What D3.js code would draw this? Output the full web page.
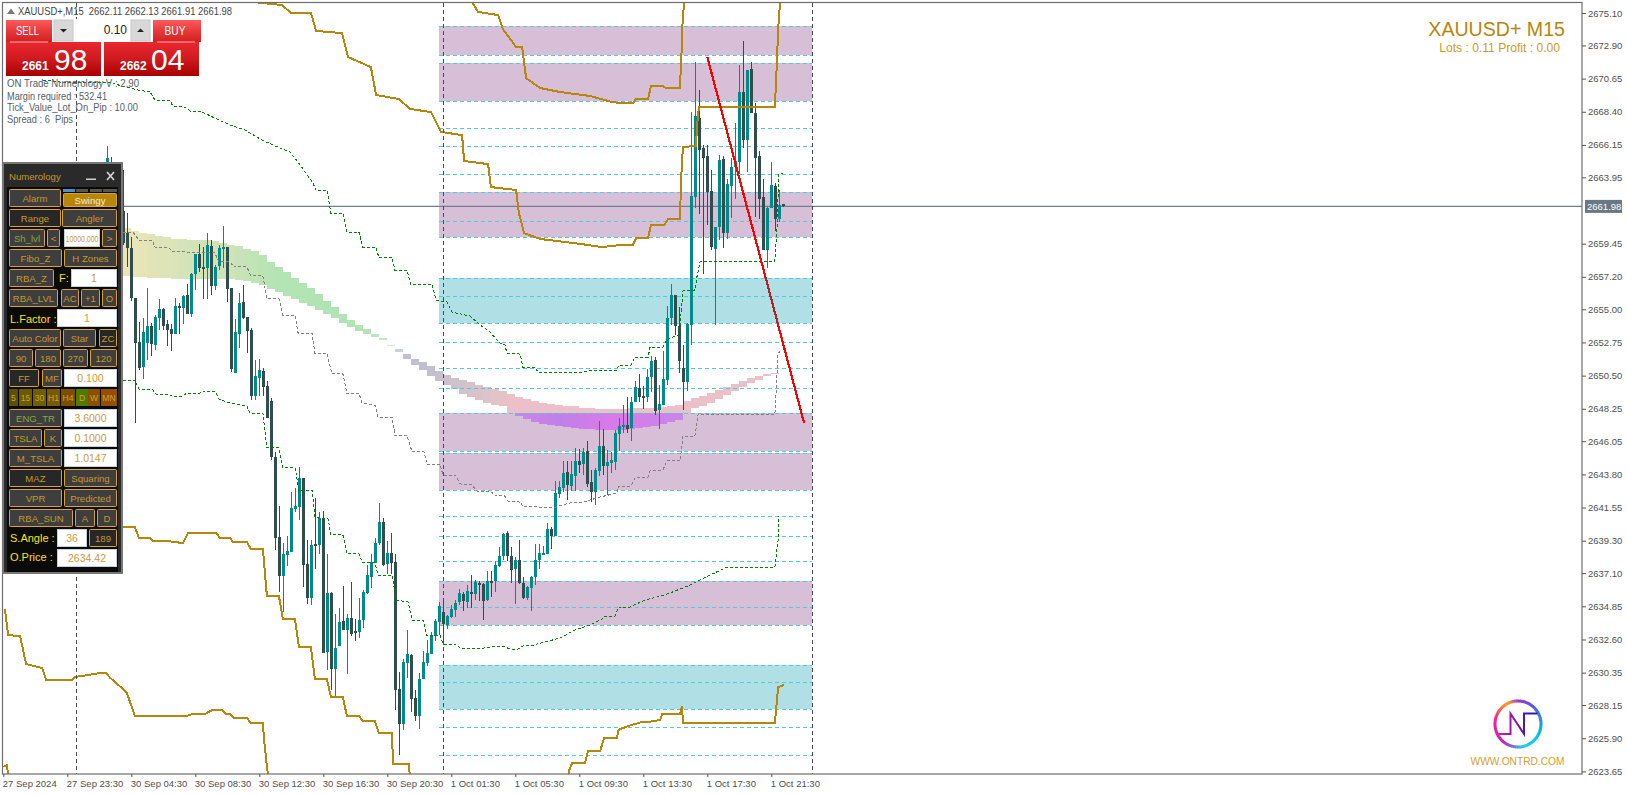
<!DOCTYPE html>
<html><head><meta charset="utf-8">
<style>html,body{margin:0;padding:0;background:#fff;overflow:hidden}svg{display:block}text{font-family:"Liberation Sans",Arial,sans-serif}</style>
<script src="https://cdn.jsdelivr.net/npm/d3@7"></script></head><body>
<script>
// ---------- DATA ----------
const dirs="UDDUDDDDDUUDUUDDDUDUDUUDDUDUUUDDUUDDDUUDDDDDUUUUUDDUDUDUDUUDUDDUUUUUUDUDDDUUDDUUUUUUDUUUUDUDUDDUDUUUDDUDDUUUUUUDUUUDUUDUDDUUDUUUUUDUUDDUUDUUUUDDDUUUDDDDUUDUUUUDUDDDDUUDUD";
const highs=[2666.08,2665.33,2664.11,2664.45,2664.45,2661.55,2659.92,2655.76,2654.14,2654.41,
2656.44,2654.05,2654.63,2655.70,2655.09,2654.27,2653.98,2655.76,2655.45,2655.97,
2656.71,2657.44,2658.75,2659.43,2659.24,2660.17,2659.70,2658.00,2659.36,2660.65,
2659.24,2656.44,2654.34,2656.10,2656.65,2654.47,2653.73,2651.56,2651.65,2651.01,
2650.13,2648.98,2645.34,2641.65,2639.12,2639.62,2642.60,2642.87,2644.30,2643.55,
2639.35,2639.35,2642.20,2641.25,2641.31,2638.40,2635.82,2634.33,2634.73,2636.23,
2634.33,2636.50,2633.99,2635.41,2635.95,2637.65,2638.40,2639.48,2641.86,2640.84,
2639.28,2639.82,2638.40,2630.39,2631.27,2633.24,2631.61,2629.17,2630.32,2631.82,
2632.56,2633.11,2633.99,2635.14,2635.14,2634.26,2634.94,2635.28,2636.02,2635.82,
2636.29,2636.97,2636.63,2636.56,2636.43,2637.24,2637.24,2637.92,2638.87,2639.82,
2639.96,2638.87,2638.19,2639.35,2636.84,2636.23,2636.90,2639.07,2639.07,2638.94,
2640.50,2640.23,2643.35,2643.35,2644.71,2644.71,2644.71,2645.59,2645.52,2645.59,
2646.06,2644.10,2644.23,2647.42,2646.88,2645.45,2645.32,2646.81,2647.62,2648.50,
2649.05,2649.05,2650.13,2650.61,2649.79,2650.95,2651.83,2651.76,2649.86,2652.17,
2655.22,2656.71,2655.97,2655.15,2652.58,2654.07,2668.38,2671.77,2669.87,2666.14,
2666.14,2664.45,2660.58,2665.46,2665.40,2663.84,2665.26,2667.64,2671.57,2673.20,
2671.23,2671.77,2668.99,2665.74,2663.84,2661.94,2664.99,2663.57,2663.09,2662.13];
const bodyTops=[2665.26,2664.45,2663.43,2663.09,2661.67,2660.19,2659.14,2655.76,2652.78,2653.46,
2653.86,2653.86,2654.47,2655.02,2655.02,2654.00,2653.66,2655.22,2655.22,2655.90,
2655.97,2657.39,2658.75,2658.75,2657.87,2659.36,2659.29,2657.87,2659.16,2659.22,
2659.22,2656.44,2653.46,2655.42,2655.49,2654.47,2653.59,2650.47,2650.88,2650.81,
2649.79,2648.78,2645.00,2639.55,2638.40,2638.60,2641.52,2641.65,2643.55,2643.55,
2637.72,2639.01,2639.07,2640.84,2640.84,2635.75,2635.75,2632.02,2633.78,2633.85,
2634.06,2634.06,2633.17,2633.92,2635.82,2636.97,2637.85,2639.14,2640.57,2640.57,
2638.46,2638.46,2637.85,2629.24,2631.07,2631.61,2631.55,2628.63,2629.92,2631.07,
2631.68,2632.90,2633.85,2634.87,2634.46,2634.19,2634.67,2635.07,2635.75,2635.68,
2635.89,2635.82,2636.50,2636.43,2636.36,2636.56,2636.56,2637.65,2638.26,2639.75,
2639.82,2638.26,2637.99,2637.99,2636.43,2636.16,2636.84,2637.99,2638.46,2638.46,
2640.09,2640.09,2642.54,2642.94,2643.89,2643.96,2643.82,2644.71,2644.71,2645.32,
2645.38,2643.28,2644.10,2645.72,2645.72,2644.64,2644.77,2646.60,2647.08,2647.15,
2647.15,2648.71,2649.73,2649.66,2649.11,2650.40,2651.49,2651.56,2648.57,2650.27,
2654.41,2655.97,2655.97,2653.86,2651.01,2654.00,2662.68,2668.11,2667.97,2665.94,
2665.40,2663.02,2660.58,2665.13,2665.19,2663.50,2664.65,2665.06,2669.74,2669.74,
2671.23,2671.30,2668.31,2665.40,2662.62,2661.87,2663.43,2663.36,2662.07,2662.11];
const bodyBottoms=[2664.45,2663.43,2662.75,2662.07,2659.49,2659.14,2655.76,2652.73,2651.01,2651.10,
2652.69,2652.64,2652.58,2654.41,2653.86,2653.59,2653.32,2653.32,2655.09,2655.09,
2654.68,2654.68,2657.39,2657.80,2657.73,2657.80,2656.58,2656.58,2657.93,2659.09,
2656.37,2650.95,2650.68,2653.32,2654.41,2653.52,2649.11,2649.11,2650.34,2649.73,
2647.62,2645.00,2639.50,2636.90,2636.90,2638.33,2638.53,2641.45,2641.59,2637.65,
2635.41,2635.41,2639.01,2639.01,2631.68,2631.75,2630.60,2630.60,2632.16,2633.24,
2633.24,2632.97,2633.11,2633.11,2633.92,2635.75,2636.84,2637.79,2639.14,2637.65,
2637.72,2637.79,2629.17,2626.86,2626.86,2631.00,2628.56,2627.41,2627.41,2629.92,
2631.00,2631.61,2632.83,2633.78,2633.65,2633.58,2634.12,2634.60,2635.14,2635.21,
2635.14,2635.68,2635.68,2636.29,2635.21,2635.28,2636.50,2636.56,2637.58,2638.26,
2638.26,2637.31,2637.38,2636.43,2635.41,2635.41,2636.09,2636.84,2637.99,2638.40,
2638.40,2639.62,2639.62,2642.47,2642.87,2643.08,2643.01,2643.69,2644.43,2644.50,
2643.15,2642.60,2642.60,2644.03,2644.37,2644.37,2644.57,2644.64,2646.54,2647.01,
2646.88,2646.94,2648.71,2649.05,2648.98,2649.05,2650.40,2648.10,2648.17,2648.51,
2650.20,2654.41,2653.86,2651.49,2650.07,2650.07,2653.93,2662.62,2665.80,2665.26,
2662.95,2659.22,2659.09,2660.58,2660.17,2660.17,2663.36,2664.65,2664.99,2666.48,
2666.48,2668.31,2665.26,2662.48,2659.02,2659.02,2661.87,2661.12,2661.12,2661.98];
const lows=[2664.11,2663.09,2662.07,2661.39,2659.36,2657.89,2655.58,2647.30,2650.88,2650.29,
2651.56,2651.83,2652.24,2653.59,2653.59,2652.51,2652.17,2653.32,2653.32,2654.00,
2654.68,2654.50,2656.31,2657.53,2655.70,2655.70,2655.97,2656.31,2657.66,2657.80,
2655.49,2650.74,2650.68,2652.37,2654.34,2652.05,2648.84,2648.84,2649.11,2649.11,
2647.62,2644.77,2638.67,2635.82,2634.46,2637.58,2638.53,2641.25,2640.70,2636.16,
2635.00,2634.94,2637.38,2638.40,2631.68,2630.53,2629.17,2628.76,2632.16,2633.24,
2630.26,2632.83,2632.52,2632.70,2633.38,2635.68,2636.09,2637.79,2639.01,2637.58,
2637.04,2637.04,2627.81,2624.76,2626.46,2629.98,2627.68,2627.07,2626.53,2629.92,
2630.80,2631.61,2632.49,2632.90,2632.22,2633.31,2634.06,2634.12,2634.94,2634.53,
2634.73,2634.73,2635.28,2635.21,2633.92,2635.21,2635.48,2635.82,2637.52,2637.99,
2637.92,2636.43,2635.00,2636.36,2635.34,2635.28,2634.53,2636.29,2637.38,2638.40,
2638.40,2638.74,2639.62,2642.20,2642.60,2642.06,2642.67,2642.67,2643.89,2643.76,
2642.94,2641.92,2641.72,2643.69,2643.76,2642.40,2643.89,2644.10,2645.38,2646.60,
2646.60,2646.06,2648.71,2648.71,2648.23,2648.71,2649.39,2647.83,2646.88,2648.51,
2649.86,2653.93,2653.25,2650.68,2648.17,2649.45,2652.58,2661.87,2661.46,2657.39,
2660.72,2659.02,2653.93,2659.70,2659.16,2659.77,2661.19,2662.48,2664.18,2665.94,
2664.31,2668.31,2661.26,2661.12,2659.02,2657.80,2661.87,2660.31,2660.92,2661.91];

const priceTicks=[2675.10,2672.90,2670.65,2668.40,2666.15,2663.95,2659.45,2657.20,2655.00,2652.75,2650.50,2648.25,2646.05,2643.80,2641.55,2639.30,2637.10,2634.85,2632.60,2630.35,2628.15,2625.90,2623.65];
const timeBars=[-26,-10,6,22,38,54,70,86,102,118,134,150,166];
const timeLabels=["27 Sep 2024","27 Sep 23:30","30 Sep 04:30","30 Sep 08:30","30 Sep 12:30","30 Sep 16:30","30 Sep 20:30","1 Oct 01:30","1 Oct 05:30","1 Oct 09:30","1 Oct 13:30","1 Oct 17:30","1 Oct 21:30"];
const bidPrice=2661.98;

const purpleZones=[[2674.22,2672.25],[2671.71,2669.15],[2662.93,2659.88],[2647.94,2645.36],[2645.23,2642.72],[2636.56,2633.58]];
const tealZones=[[2657.10,2654.09],[2630.87,2627.86]];
const innerLevels=[2667.28,2666.06,2664.16,2661.01,2655.88,2652.76,2650.99,2649.64,2640.95,2639.60,2637.90,2634.78,2629.69,2626.64,2624.74];
const zoneBars=[82.9,176.05];
const separatorBars=[-7.9,83.9,176.05];

const goldA=[[36.7,2675.84],[43.7,2675.64],[45.8,2675.13],[50.9,2675.13],[52.2,2673.88],[58.7,2673.74],[60.2,2672.11],[65.9,2671.43],[67.2,2669.54],[72.9,2669.26],[75.7,2668.59],[80.9,2668.38],[83.4,2667.03],[88.7,2666.82],[89.2,2665.06],[95.2,2664.85],[95.9,2663.29],[102.2,2663.09],[102.9,2661.53],[104.2,2660.17],[108.2,2659.77],[118.4,2659.43],[123.7,2659.22],[128.2,2659.36],[131.4,2659.36],[132.2,2659.83],[135.2,2659.83],[135.9,2660.72],[139.2,2660.72],[140.2,2661.12],[143.2,2661.12],[143.4,2663.57],[143.9,2666.01],[147.2,2666.08],[147.4,2667.36],[147.9,2668.72],[166.9,2668.72],[167.4,2671.71],[167.7,2673.94],[168.2,2675.84]];
const goldB=[[91.2,2675.84],[92.7,2675.17],[97.7,2674.96],[98.9,2674.01],[102.2,2672.79],[103.7,2672.79],[104.7,2670.69],[108.2,2670.01],[113.2,2669.74],[120.7,2669.47],[126.2,2669.06],[128.2,2668.99],[131.4,2668.99],[132.2,2669.26],[135.2,2669.26],[135.9,2670.14],[138.9,2670.14],[139.7,2670.01],[143.2,2670.01],[143.4,2671.71],[143.7,2673.06],[143.7,2673.94],[144.2,2675.84]];
const goldC=[[4,2640.23],[6.9,2640.23],[7.9,2639.48],[10.7,2639.48],[11.4,2639.28],[14.9,2639.28],[18.9,2639.14],[19.2,2639.28],[20.2,2639.82],[27.2,2639.82],[28.2,2639.48],[30.7,2639.48],[31.4,2639.21],[34.9,2639.21],[35.9,2638.74],[38.9,2638.74],[39.9,2635.55],[42.9,2635.55],[43.9,2633.99],[46.9,2633.99],[47.9,2632.09],[50.9,2632.09],[51.9,2629.92],[54.9,2629.92],[55.9,2628.70],[58.9,2628.70],[59.9,2627.41],[62.9,2627.41],[63.9,2627.07],[66.9,2627.07],[67.9,2626.25],[71.2,2626.25],[71.4,2624.15],[75.4,2624.15],[75.6,2623.47]];
const goldD=[[-25.6,2634.67],[-24.8,2632.90],[-21.8,2632.83],[-20.3,2630.93],[-16.3,2630.66],[-15.3,2629.85],[-8.8,2629.85],[-8.1,2630.05],[-1.8,2630.32],[-0.3,2630.32],[0.7,2630.00],[4.2,2629.17],[4.9,2628.97],[6.9,2627.41],[19.9,2627.41],[21.2,2627.54],[24.4,2627.54],[26.2,2627.81],[28.7,2627.81],[29.7,2627.54],[30.7,2627.54],[31.7,2627.27],[34.9,2627.27],[35.9,2626.93],[38.9,2626.93],[39.2,2625.78],[40,2623.74],[40.2,2623.47]];
const goldE=[[115.4,2623.47],[115.5,2623.74],[116.2,2624.22],[119.4,2624.22],[120.2,2625.03],[123.2,2625.03],[124.2,2625.91],[127.4,2625.91],[127.8,2626.46],[130.2,2626.73],[133.7,2627.00],[135.2,2627.00],[138.2,2627.14],[138.7,2627.54],[143.2,2627.54],[143.7,2628.08],[143.9,2626.93],[166.9,2626.93],[167.7,2629.37],[169.2,2629.51]];
const goldF=[[-26,2623.95],[-25.1,2624.08],[-24.8,2623.47]];

const greenUpper=[[-16.1,2670.55],[-11.8,2670.42],[-6.8,2670.35],[-0.1,2670.42],[7.7,2669.87],[10.7,2669.74],[11.9,2669.20],[15.7,2669.13],[16.4,2668.79],[19.4,2668.72],[20.7,2668.45],[23.2,2668.45],[26.9,2667.97],[30.7,2667.50],[34.4,2667.16],[38.7,2666.48],[41.9,2666.08],[45.7,2665.67],[48.2,2664.79],[51.4,2663.57],[52.2,2663.09],[54.9,2663.09],[55.9,2661.53],[58.9,2661.53],[59.9,2660.24],[62.9,2660.24],[63.9,2659.22],[67.2,2659.22],[67.9,2658.48],[71.2,2658.48],[71.9,2657.66],[74.9,2657.66],[75.9,2656.65],[81.2,2656.65],[82.2,2655.63],[84.9,2655.49],[86.2,2654.81],[90.7,2654.54],[93.2,2653.93],[95.7,2653.46],[97.4,2652.91],[98.2,2652.71],[99.4,2652.58],[99.9,2652.03],[103.2,2651.96],[103.9,2651.08],[106.9,2651.08],[107.7,2650.74],[118.9,2650.74],[119.7,2650.81],[127.4,2650.88],[127.9,2651.22],[130.9,2651.22],[131.9,2651.76],[135.2,2651.76],[135.7,2652.44],[138.9,2652.44],[139.7,2652.85],[140.7,2653.05],[142.7,2653.25],[143.2,2653.93],[143.9,2656.24],[146.9,2656.31],[147.4,2657.19],[148.2,2658.21],[166.9,2658.27],[167.4,2660.38],[167.9,2664.18],[168.9,2664.18]];
const greenLower=[[3.9,2650.20],[6.9,2650.20],[7.9,2649.59],[11.2,2649.59],[12.2,2649.25],[15.2,2649.25],[16.2,2649.11],[18.9,2649.11],[19.9,2649.32],[23.2,2649.32],[23.9,2649.45],[26.9,2649.45],[27.9,2648.91],[30.7,2648.64],[34.9,2648.44],[35.7,2647.96],[38.9,2647.96],[39.9,2645.59],[42.9,2645.59],[43.9,2644.30],[46.9,2644.30],[47.9,2642.74],[51.2,2642.74],[51.9,2640.91],[55.2,2640.77],[55.9,2639.69],[58.9,2639.69],[59.9,2638.40],[62.9,2638.40],[63.9,2637.79],[66.9,2637.79],[67.7,2636.97],[71.2,2636.97],[72.2,2635.28],[75.2,2635.14],[76.2,2633.92],[78.9,2633.92],[79.9,2632.90],[83.2,2632.90],[83.9,2632.29],[86.9,2632.29],[88.2,2632.02],[91.4,2632.02],[92.7,2631.95],[95.7,2632.09],[99.4,2632.09],[100.7,2631.95],[102.7,2631.95],[103.9,2632.16],[105.7,2632.16],[109.4,2632.43],[113.2,2632.70],[116.9,2633.24],[120.7,2633.58],[123.7,2633.99],[124.4,2634.19],[126.9,2634.19],[127.9,2634.80],[130.7,2634.80],[134.4,2635.28],[139.4,2635.62],[145.7,2636.29],[150.7,2636.97],[154.9,2637.51],[166.9,2637.51],[167.7,2639.35],[167.9,2640.97]];
const grayMid=[[3.9,2660.24],[6.4,2660.24],[7.9,2659.70],[11.2,2659.70],[11.9,2659.22],[15.2,2659.22],[16.2,2658.95],[19.7,2658.95],[20.2,2658.82],[26.9,2658.82],[27.9,2658.21],[30.7,2658.21],[31.7,2657.87],[34.9,2657.87],[35.9,2657.26],[38.9,2657.26],[39.9,2655.70],[42.9,2655.70],[43.9,2654.61],[46.9,2654.61],[47.7,2653.39],[51.2,2653.39],[51.9,2652.03],[54.9,2652.03],[56.2,2650.61],[58.9,2650.61],[59.9,2649.32],[62.9,2649.32],[63.7,2648.64],[66.9,2648.50],[67.7,2647.69],[71.2,2647.69],[71.9,2646.47],[74.9,2646.47],[76.2,2645.32],[79.2,2645.32],[79.9,2644.50],[83.2,2644.50],[83.9,2643.76],[87.2,2643.69],[88.2,2643.15],[91.2,2643.08],[92.4,2642.67],[95.7,2642.67],[96.9,2642.40],[99.4,2642.33],[100.2,2641.99],[103.2,2641.92],[103.9,2641.65],[111.2,2641.52],[115.7,2641.86],[118.9,2641.92],[123.2,2642.26],[127.4,2642.54],[127.9,2643.01],[130.9,2643.01],[131.9,2643.55],[135.2,2643.62],[135.7,2644.03],[138.9,2644.10],[139.9,2644.71],[143.2,2644.71],[143.9,2646.40],[146.9,2646.40],[147.7,2647.87],[166.9,2647.87],[167.7,2652.03],[168.7,2652.24]];
const redTrend=[[150,2672.11],[174.2,2647.28]];

// ribbon: each column spans two bars, starting at bar 3.9
const ribbonStartBar=3.9;
const ribbonTop=[2660.53,2660.33,2660.19,2660.11,2659.97,2659.90,2659.77,2659.77,2659.70,2659.70,2659.70,2659.63,2659.51,2659.36,2659.29,2659.09,2658.95,2658.68,2658.21,2657.87,2657.53,2657.12,2656.78,2656.44,2656.04,2655.56,2655.15,2654.68,2654.27,2653.93,2653.66,2653.32,2653.05,2652.58,2652.30,2651.96,2651.63,2651.42,2651.15,2650.81,2650.54,2650.34,2650.20,2650.07,2649.86,2649.73,2649.59,2649.45,2649.25,2649.05,2648.91,2648.78,2648.64,2648.57,2648.50,2648.44,2648.44,2648.30,2648.30,2648.23,2648.23,2648.23,2648.23,2648.30,2648.30,2648.30,2648.30,2648.37,2648.44,2648.50,2648.78,2648.98,2649.11,2649.32,2649.52,2649.73,2649.93,2650.13,2650.34,2650.47,2650.61,2650.68];
const ribbonBottom=[2657.26,2657.21,2657.17,2657.12,2657.12,2657.10,2657.07,2657.07,2657.05,2657.05,2657.05,2657.05,2657.05,2657.03,2656.98,2656.92,2656.76,2656.62,2656.35,2656.17,2655.90,2655.70,2655.42,2655.22,2654.95,2654.68,2654.41,2654.07,2653.80,2653.52,2653.32,2653.12,2652.91,2652.51,2652.10,2651.63,2651.22,2650.88,2650.47,2650.13,2649.86,2649.59,2649.25,2649.05,2648.84,2648.64,2648.50,2648.44,2647.96,2647.76,2647.55,2647.35,2647.22,2647.15,2647.08,2647.01,2646.95,2646.88,2646.88,2646.81,2646.81,2646.81,2646.81,2646.88,2646.95,2647.01,2647.08,2647.22,2647.35,2647.49,2647.96,2648.30,2648.44,2648.64,2648.91,2649.18,2649.45,2649.73,2650.00,2650.20,2650.47,2650.61];

// ---------- SCALES ----------
const W=1627,H=795,L=2.5,T=2.5,R=1582,B=774;
const x=d3.scaleLinear().domain([0,169]).range([107.3,783.3]);
const y=d3.scaleLinear().domain([2675.10,2623.65]).range([13,771.4]);
const svg=d3.select("body").append("svg").attr("width",W).attr("height",H);
const defs=svg.append("defs");
defs.append("clipPath").attr("id","plot").append("rect").attr("x",L).attr("y",T).attr("width",R-L).attr("height",B-T);
const plot=svg.append("g").attr("clip-path","url(#plot)");
const line=d3.line().x(d=>x(d[0])).y(d=>y(d[1]));

// zones
const zoneG=plot.append("g").attr("shape-rendering","crispEdges");
const drawZones=(zones,fill)=>zoneG.selectAll(null).data(zones).enter().append("rect")
  .attr("x",x(zoneBars[0])).attr("width",x(zoneBars[1])-x(zoneBars[0]))
  .attr("y",d=>y(d[0])).attr("height",d=>y(d[1])-y(d[0])).attr("fill",fill);
drawZones(purpleZones,"#d8bfd8");
drawZones(tealZones,"#b0e0e6");

// ribbon
const ribbonColor=d3.scaleLinear()
 .domain([0,4,8,13,18,25,30,32,33,35,37,40,45,48,82])
 .range(["#ebe5b5","#dfe4b8","#d2e3b8","#cde3b8","#b6e4b4","#afe4b4","#b4e4b6","#c6e6c6","#d4e6d4","#c2c0d2","#c0bfd0","#ccc0cc","#dcc4c8","#ecc0c8","#ecc0c8"]);
const violet=d3.scaleLinear().domain([48,54,60,70]).range(["#cc86e8","#c080ea","#d87ae8","#c886ea"]);
const ribbonG=plot.append("g").attr("shape-rendering","crispEdges");
const colX=i=>x(ribbonStartBar+2*i), colW=x(2)-x(0);
const zoneTopPrice=purpleZones[3][0];
ribbonTop.forEach((t,i)=>{
  const b=ribbonBottom[i];
  ribbonG.append("rect").attr("x",colX(i)).attr("width",colW).attr("y",y(t))
    .attr("height",y(Math.max(b,zoneTopPrice))-y(t)).attr("fill",ribbonColor(i));
  if(b<zoneTopPrice) ribbonG.append("rect").attr("x",colX(i)).attr("width",colW).attr("y",y(zoneTopPrice))
    .attr("height",y(b)-y(zoneTopPrice)).attr("fill",violet(i));
});

// horizontal dashed levels
const zoneEdges=purpleZones.concat(tealZones).flat();
plot.append("g").selectAll("line").data(innerLevels.concat(zoneEdges)).enter().append("line")
  .attr("x1",x(zoneBars[0])).attr("x2",x(zoneBars[1])).attr("y1",d=>Math.round(y(d))+.5).attr("y2",d=>Math.round(y(d))+.5)
  .attr("stroke","#4ccbd8").attr("stroke-width",1).attr("stroke-dasharray","4,3").attr("shape-rendering","crispEdges");

// bid line
plot.append("line").attr("x1",L).attr("x2",R).attr("y1",y(bidPrice)).attr("y2",y(bidPrice)).attr("stroke","#708090").attr("stroke-width",1.4);

// candles
const candleG=plot.append("g").attr("shape-rendering","crispEdges");
const bars=highs.map((h,i)=>({i,h,t:bodyTops[i],b:bodyBottoms[i],l:lows[i],up:dirs[i]==="U"}));
const col=d=>d.up?"#008b8b":"#2f4f4f";
candleG.selectAll(".w").data(bars).enter().append("rect").attr("x",d=>Math.floor(x(d.i))).attr("width",1)
  .attr("y",d=>y(d.h)).attr("height",d=>y(d.l)-y(d.h)).attr("fill",col);
candleG.selectAll(".b").data(bars).enter().append("rect").attr("x",d=>Math.floor(x(d.i))-1).attr("width",3)
  .attr("y",d=>y(d.t)).attr("height",d=>Math.max(1.5,y(d.b)-y(d.t))).attr("fill",col);

// dashed indicator lines
const dash=(data,c)=>plot.append("path").attr("d",line(data)).attr("fill","none").attr("stroke",c).attr("stroke-width",1).attr("stroke-dasharray","3,2").attr("shape-rendering","crispEdges");
dash(greenUpper,"#008000");dash(greenLower,"#008000");dash(grayMid,"#808080");

// gold lines
[goldA,goldB,goldC,goldD,goldE,goldF].forEach(d=>plot.append("path").attr("d",line(d)).attr("fill","none").attr("stroke","#b8860b").attr("stroke-width",2).attr("stroke-linejoin","miter").attr("shape-rendering","crispEdges"));

// red trend
const rg=defs.append("linearGradient").attr("id","redg").attr("gradientUnits","userSpaceOnUse")
  .attr("x1",0).attr("x2",0).attr("y1",y(redTrend[0][1])).attr("y2",y(redTrend[1][1]));
const rStops=(p)=>(y(p)-y(redTrend[0][1]))/(y(redTrend[1][1])-y(redTrend[0][1]));
[[0,"#f00"],[rStops(tealZones[0][0])-.001,"#f00"],[rStops(tealZones[0][0]),"#b82028"],[rStops(tealZones[0][1]),"#b82028"],[rStops(tealZones[0][1])+.001,"#f00"],[1,"#f00"]]
 .forEach(s=>rg.append("stop").attr("offset",s[0]).attr("stop-color",s[1]));
plot.append("line").attr("x1",x(redTrend[0][0])).attr("y1",y(redTrend[0][1])).attr("x2",x(redTrend[1][0])).attr("y2",y(redTrend[1][1]))
  .attr("stroke","url(#redg)").attr("stroke-width",2.2).attr("shape-rendering","crispEdges");

// period separators
plot.append("g").selectAll("line").data(separatorBars).enter().append("line")
  .attr("x1",d=>Math.round(x(d))+.5).attr("x2",d=>Math.round(x(d))+.5).attr("y1",T).attr("y2",B)
  .attr("stroke","#4a4a4a").attr("stroke-width",1).attr("stroke-dasharray","4,3").attr("shape-rendering","crispEdges");

// frame
svg.append("rect").attr("x",L).attr("y",T).attr("width",R-L).attr("height",B-T).attr("fill","none").attr("stroke","#6e6e6e").attr("stroke-width",1.2);

// axes
const yAxis=svg.append("g").attr("transform",`translate(${R},0)`).call(d3.axisRight(y).tickValues(priceTicks).tickFormat(d3.format(".2f")).tickSize(4).tickPadding(2));
yAxis.select(".domain").remove();
yAxis.selectAll("line").attr("stroke","#555");
yAxis.selectAll("text").attr("fill","#505050").style("font-size","9.5px");
const xAxis=svg.append("g").attr("transform",`translate(0,${B})`).call(d3.axisBottom(x).tickValues(timeBars).tickFormat((d,i)=>timeLabels[i]).tickSize(3).tickPadding(3));
xAxis.select(".domain").remove();
xAxis.selectAll("line").attr("stroke","#555");
xAxis.selectAll("text").attr("fill","#505050").attr("text-anchor","start").attr("dx",-1).style("font-size","9.5px");

// bid label
svg.append("rect").attr("x",R+3).attr("y",y(bidPrice)-6.5).attr("width",37).attr("height",13).attr("fill","#6a7886");
svg.append("text").attr("x",R+5).attr("y",y(bidPrice)+3.5).attr("fill","#fff").style("font-size","9.5px").text(d3.format(".2f")(bidPrice));

// ---------- CHROME ----------
const txt=(g,s,px,py,size,fill,anchor="start",weight="normal")=>g.append("text").attr("x",px).attr("y",py).attr("fill",fill).attr("text-anchor",anchor).attr("font-weight",weight).style("font-size",size+"px").text(s);
const fit=(sel,w)=>sel.attr("textLength",w).attr("lengthAdjust","spacingAndGlyphs");

// corner titles
txt(svg,"XAUUSD+ M15",1565,36,19.6,"#b8860b","end");
txt(svg,"Lots : 0.11 Profit : 0.00",1560,52,12.1,"#cc9a2a","end");

// header
svg.append("path").attr("d","M7 14 L11 8.5 L15 14 Z").attr("fill","#777");
fit(txt(svg,"XAUUSD+,M15  2662.11 2662.13 2661.91 2661.98",18,15,10.4,"#444").style("white-space","pre"),214);

// trade panel
const gradV=(id,c)=>{const g=defs.append("linearGradient").attr("id",id).attr("x1",0).attr("x2",0).attr("y1",0).attr("y2",1);c.forEach((s,i)=>g.append("stop").attr("offset",i/(c.length-1)).attr("stop-color",s));};
gradV("rTop",["#ff5a5a","#e63a3a","#d81e1e"]);
gradV("rBot",["#e8282e","#d01a20","#a80000"]);
const tp=svg.append("g");
const box=(g,x0,y0,x1,y1,f,s)=>g.append("rect").attr("x",x0).attr("y",y0).attr("width",x1-x0).attr("height",y1-y0).attr("fill",f).attr("stroke",s||"none");
tp.append("rect").attr("x",5).attr("y",19).attr("width",197).attr("height",58).attr("fill","#fff");
box(tp,6,20,52,42,"url(#rTop)");box(tp,6,42,101,76,"url(#rBot)");
box(tp,153,20,201,42,"url(#rTop)");box(tp,104,42,199,76,"url(#rBot)");
box(tp,10,41.5,48,42.5,"#f4b0b0");box(tp,157,41.5,195,42.5,"#f4b0b0");
box(tp,54,20,73,41,"#d8d8d8","#c8c8c8");box(tp,131,20,150,41,"#d8d8d8","#c8c8c8");
tp.append("path").attr("d","M60 29 L67 29 L63.5 32.5 Z").attr("fill","#222");
tp.append("path").attr("d","M137 32 L144 32 L140.5 28.5 Z").attr("fill","#222");
txt(tp,"0.10",127,34,12,"#222","end");
fit(txt(tp,"SELL",16,35,13,"#fff"),23);fit(txt(tp,"BUY",164.5,35,13,"#fff"),21);
txt(tp,"2661",22,70,12,"#fff","start","bold");txt(tp,"98",54,70,30,"#fff");
txt(tp,"2662",120,70,12,"#fff","start","bold");txt(tp,"04",151,70,30,"#fff");

// info lines
[["ON Trade Numerology V : 2.90",87,132],["Margin required : 532.41",99.5,100],["Tick_Value_Lot_On_Pip : 10.00",111,131],["Spread : 6  Pips",123,66]]
 .forEach(r=>fit(txt(svg,r[0],7,r[1],10.2,"#55606a").style("white-space","pre"),r[2]));

// Numerology panel
const p=svg.append("g");
p.append("rect").attr("x",3).attr("y",163).attr("width",119).attr("height",410).attr("fill","#2a2a2a").attr("stroke","#777").attr("stroke-width",2);
box(p,7,187,118,572,"#0a0a0a");
txt(p,"Numerology",9,180,9.6,"#c49a2c");
box(p,86,178.5,96,180,"#cfcfcf");
p.append("path").attr("d","M107 172 L114 180 M114 172 L107 180").attr("stroke","#d8d8d8").attr("stroke-width",1.6);
const btn=(x0,y0,x1,y1,label,o={})=>{
  const g=p.append("g");
  g.append("rect").attr("x",x0+.5).attr("y",y0+.5).attr("width",x1-x0-1).attr("height",y1-y0-1).attr("rx",1)
   .attr("fill",o.fill||"#3e3e3e").attr("stroke",o.stroke||"#daa520").attr("stroke-width",1);
  txt(g,label,(x0+x1)/2,(y0+y1)/2+3.5,o.size||9.6,o.color||"#c8982c","middle");
};
const inp=(x0,y0,x1,y1,label,size,w)=>{
  const g=p.append("g");
  g.append("rect").attr("x",x0+.5).attr("y",y0+.5).attr("width",x1-x0-1).attr("height",y1-y0-1).attr("fill","#fff").attr("stroke","#c4d0dc");
  const t=txt(g,label,(x0+x1)/2,(y0+y1)/2+3.8,size||10.5,"#cc9a40","middle");
  if(w) fit(t,w);
};
const dark="#272727",green="#86a83c",yellow="#ffe000";
btn(9,189,61,207,"Alarm");
[[63,75,"#4a90d0"],[76,88,"#555"],[90,102,"#555"],[103,117,"#555"]].forEach(t=>box(p,t[0],189,t[1],192,t[2]));
btn(63,193,117,207,"Swingy",{fill:"#b8860b",color:"#f6ecd0"});
btn(9,209,61,227,"Range",{fill:dark});btn(62,209,117,227,"Angler");
btn(9,229,45,247,"Sh_lvl",{color:green});btn(47,229,60,247,"<");inp(64,229,100,247,"10000.000",8.4,33);btn(102,229,117,247,">");
btn(9,249,62,267,"Fibo_Z");btn(64,249,117,267,"H Zones");
btn(9,269,54,287,"RBA_Z");txt(p,"F:",59,282,11,yellow);inp(71,269,117,287,"1");
btn(9,289,58,307,"RBA_LVL");btn(61,289,79,307,"AC");btn(81,289,100,307,"+1");btn(102,289,117,307,"O");
txt(p,"L.Factor :",10,323,11,yellow);inp(57,309,117,327,"1");
btn(9,329,61,347,"Auto Color");btn(63,329,96,347,"Star");btn(99,329,117,347,"ZC",{fill:dark});
btn(9,349,33,367,"90");btn(35,349,61,367,"180");btn(63,349,88,367,"270");btn(90,349,117,367,"120");
btn(9,369,39,387,"FF",{fill:dark});btn(42,369,62,387,"MF");inp(64,369,117,387,"0.100");
[[9,18,"5","#5a5000"],[19,32,"15","#6a5a00"],[33,46,"30","#6e5f00"],[47,60,"H1","#7a5a00"],[61,75,"H4","#7a5000"],[76,88,"D","#4f7a00"],[88,100,"W","#8a5000"],[101,117,"MN","#954f00"]]
 .forEach(c=>{box(p,c[0],389,c[1],406,c[3]);txt(p,c[2],(c[0]+c[1])/2,401,8.6,"#d0a030","middle");});
btn(9,409,62,427,"ENG_TR",{color:green});inp(64,409,117,427,"3.6000");
btn(9,429,42,447,"TSLA");btn(44,429,62,447,"K");inp(64,429,117,447,"0.1000");
btn(9,449,62,467,"M_TSLA");inp(64,449,117,467,"1.0147");
btn(9,469,62,487,"MAZ",{fill:dark});btn(64,469,117,487,"Squaring");
btn(9,489,62,507,"VPR");btn(64,489,117,507,"Predicted");
btn(9,509,73,527,"RBA_SUN");btn(75,509,95,527,"A");btn(97,509,117,527,"D");
txt(p,"S.Angle :",10,542,11,yellow);inp(57,529,87,547,"36");btn(89,529,117,547,"189",{fill:dark});
txt(p,"O.Price :",10,561,11,yellow);inp(57,549,117,567,"2634.42");

// logo
const logo=svg.append("g").attr("transform","translate(1518,724)");
const ringColor=d3.scaleLinear().domain([0,.12,.3,.45,.6,.78,.92,1])
  .range(["#9b30d8","#4a60e0","#00b8f0","#20d0f0","#c020c0","#ff2090","#ffa010","#9b30d8"]);
const arc=d3.arc().innerRadius(21.5).outerRadius(24.5);
d3.range(72).forEach(i=>logo.append("path").attr("d",arc({startAngle:i/72*2*Math.PI,endAngle:(i+1.2)/72*2*Math.PI})).attr("fill",ringColor(i/72)));
const ng=defs.append("linearGradient").attr("id","ng").attr("gradientUnits","userSpaceOnUse").attr("x1",-20).attr("x2",20).attr("y1",0).attr("y2",0);
[[0,"#e020a0"],[.45,"#8010b0"],[.8,"#2020c0"],[1,"#5010a0"]].forEach(s=>ng.append("stop").attr("offset",s[0]).attr("stop-color",s[1]));
logo.append("path").attr("d","M-20 10 H-7.5 V-10.5 L6 10 V-10.5 H19.5").attr("fill","none").attr("stroke","url(#ng)").attr("stroke-width",2);
txt(svg,"WWW.ONTRD.COM",1517.5,765,10.2,"#d4a02c","middle");
</script></body></html>
